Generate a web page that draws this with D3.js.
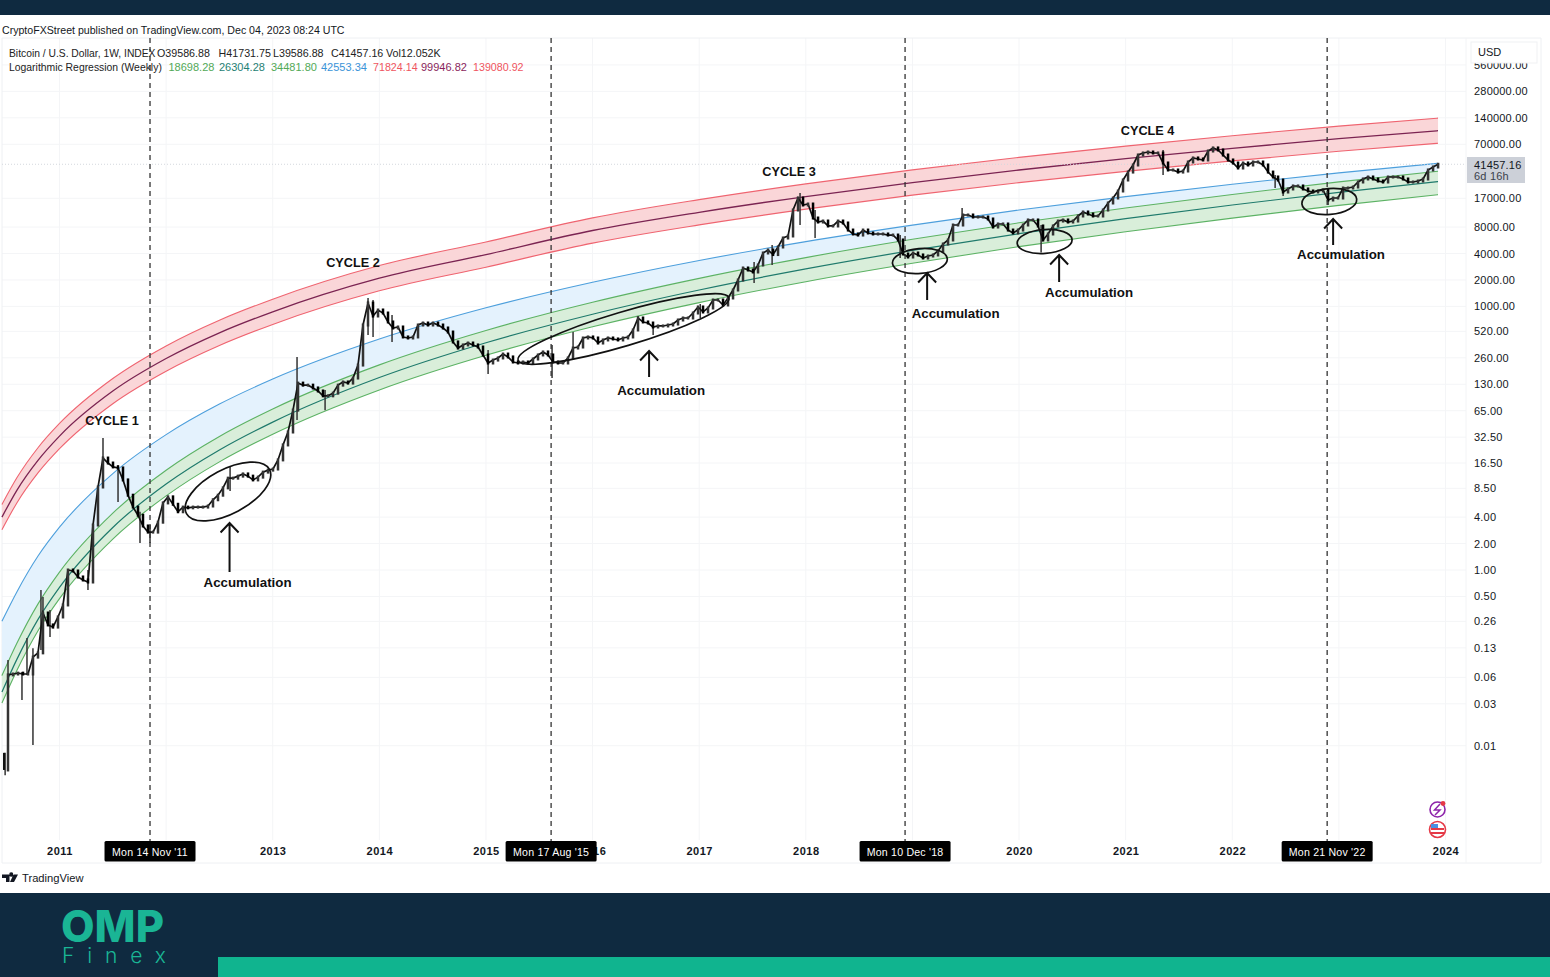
<!DOCTYPE html>
<html><head><meta charset="utf-8">
<script src="https://cdnjs.cloudflare.com/ajax/libs/d3/7.8.5/d3.min.js"></script>
<style>html,body{margin:0;padding:0;background:#fff}svg{display:block}</style>
</head><body><svg id="c" width="1550" height="977"></svg>
<script>
// ---------- data ----------
const yearTicks=[2011,2012,2013,2014,2015,2016,2017,2018,2019,2020,2021,2022,2023,2024];
const yearLabels=[2011,2013,2014,2015,2016,2017,2018,2020,2021,2022,2024];
const priceTicks=[0.01,0.03,0.06,0.13,0.26,0.5,1,2,4,8.5,16.5,32.5,65,130,260,520,1000,2000,4000,8000,17000,70000,140000,280000,560000];

// regression lines, sampled at these years
const curveYears=[2010.46,2010.6,2010.8,2011,2011.5,2012,2012.5,2013,2014,2015,2016,2017,2018,2019,2020,2021,2022,2023,2023.93];
const greenLow=[.0306,.072,.205,.473,2.25,6.97,17,35.1,112,278,586,1105,1911,3095,4795,7085,10110,14110,18698.28];
const tealMid=[.0408,.0961,.276,.635,3.05,9.5,23.2,48.2,155,386,815,1537,2672,4340,6720,9960,14260,19890,26304.28];
const greenHigh=[.0628,.1465,.414,.947,4.44,13.67,33.1,68,216,532,1114,2084,3593,5800,8940,13180,18780,26120,34481.8];
const blueLine=[.261,.563,1.45,3.07,12.5,34.7,77.3,149,425,964,1881,3330,5465,8420,12500,17780,24530,33060,42553.34];
const redLow=[2.87,5.8,12.8,24,78.1,183,359,624,1505,2795,5253,8465,12790,18470,25650,34460,45270,58210,71824.14];
const purpleMid=[4,8.07,17.8,33.4,108.7,255,500,868,2094,3890,7310,11780,17800,25700,35700,47950,63000,81000,99946.82];
const redHigh=[5.57,11.2,24.8,46.5,151,355,696,1208,2915,5415,10180,16400,24780,35770,49700,66750,87700,112750,139080.92];

// closing prices, read about every 17 days
const firstCandleYear=2010.47, candleStepYears=0.0469;
const closes2010=[.0053,.064,.0655,.067,.0655,.0655,.102,.114,.324,.237,.224,.292];
const closes2011=[.4,1,.974,.833,.77,.73,3.25,8.8,18.8,16.5,14.9,14.5,10.6,7.1,5.2,4.2,3.17,2.7,2.7,3.5,5.8];
const closes2012=[6.8,5.6,4.6,5.2,5.1,5.2,5.2,5.2,5.35,6.3,7.1,8.6,11.1,11.1,11.7,12.4,11.7,10.6,11.4,13,13.7];
const closes2013=[14.1,17.9,26.5,37.2,66,134,127,127,118,109,96,96,103,127,138,134,153,215,614,1092,778,910];
const closes2014=[841,665,568,583,449,437,449,614,647,614,647,614,568,511,394,336,364,383,364,345,280];
const closes2015=[227,245,259,287,266,233,227,233,227,252,280,303,280,233,227,227,259,336,345,437,449];
const closes2016=[437,383,415,437,426,415,437,449,539,738,665,647,583,599,599,614,630,700,738,738,841,985];
const closes2017=[864,959,1183,1183,1038,1247,1537,1998,2736,2596,2464,2959,4054,4384,3891,4744,6005,6330,12500,17130,14260];
const closes2018=[14630,10140,9130,9370,8230,8230,9370,8900,7400,6670,6490,7400,6850,6670,6670,6670,6490,6490,5700,3950,3650];
const closes2019=[4054,3850,3556,3746,3850,4270,5130,5700,8440,8440,10970,10970,10410,10410,10410,9880,8010,8670,8670,7400,6850,7400];
const closes2020=[8440,9630,9630,8230,5700,6670,8230,9370,9630,9130,9370,10690,11870,11260,10690,10690,12500,15030,17130,20580,27450];
const closes2021=[33800,40680,52860,55730,57170,55730,55730,42880,35680,35680,33800,34760,44000,48900,47600,46400,58700,63600,60300,52860,46400];
const closes2022=[42880,37600,42880,40680,44000,44000,40680,33800,29700,27450,20050,21700,23470,23470,21700,20580,20050,20580,21130,16250,17130];
const closes2023=[17130,22260,22260,22850,26050,28190,29700,28190,26740,26050,29700,29700,29700,28190,26050,26050,26740,28190,35680,38600,41457.16];

// the long wicks that stand out
const wickYears=[2010.49,2010.517,2010.648,2010.695,2010.751,2010.826,2010.845,2010.911,2011.267,2011.408,2011.549,2011.755,2011.849,2012.6,2013.228,2013.491,2013.894,2013.941,2014.119,2015.02,2015.62,2015.817,2016.427,2016.568,2017.01,2017.515,2017.684,2017.946,2018.087,2018.885,2019.466,2020.207,2021.351,2022.402,2022.477,2022.899];
const wickHighs=[.0083,.0947,.069,.168,.129,.592,.493,.351,1,31.8,15.7,4.6,3.25,14.9,266,112,1247,1183,798,319,364,511,778,665,1065,3200,5000,19520,12500,6490,13180,8440,60300,31300,24090,22260];
const wickLows=[.0046,.0102,.0331,.064,.0102,.123,.182,.173,.592,10.6,5.94,2.03,2.03,7.93,51,66,473,449,394,170,153,303,539,473,738,1847,2959,8440,6005,3556,9630,4100,31300,22260,18050,14260];

// annotations
const eventYears=[2011.849,2015.611,2018.931,2022.89];
const eventLabels=["Mon 14 Nov '11","Mon 17 Aug '15","Mon 10 Dec '18","Mon 21 Nov '22"];
const ringYears=[2012.58,2016.29,2019.07,2020.24,2022.91];
const ringPrices=[7.82,553,3286,5480,15630];
const ringRx=[47,110,27.5,27.5,27.5];
const ringRy=[22,17,12.5,12,13];
const ringTilt=[-28,-16.5,-5,-4,-5];
const arrowYears=[2012.595,2016.53,2019.138,2020.376,2022.946];
const arrowTips=[3.43,311,2400,3850,9880];
const arrowTails=[.949,157,1183,1896,5000];
const accYears=[2012.764,2016.643,2019.405,2020.657,2023.02];
const accPrices=[.73,109,841,1421,3850];
const cycleNames=["CYCLE 1","CYCLE 2","CYCLE 3","CYCLE 4"];
const cycleYears=[2011.492,2013.753,2017.843,2021.206];
const cyclePrices=[49.6,3119,33800,99100];
const lastPrice=41457.16;
const legendA=[["Bitcoin / U.S. Dollar, 1W, INDEX",9,10.3],["O39586.88",157,10.7],["H41731.75",218.6,10.7],["L39586.88",273,10.7],["C41457.16",331,10.7],["Vol12.052K",386,10.7]];
const legendB=[["Logarithmic Regression (Weekly)",9,10.4,"#222"],["18698.28",168.5,11,"#52a957"],["26304.28",219,11,"#1f7f74"],["34481.80",271,11,"#52a957"],["42553.34",321,11,"#3a93d8"],["71824.14",373,10.7,"#ef5560"],["99946.82",421,11,"#8a1f5c"],["139080.92",473,10.7,"#ef5560"]];

// ---------- scales ----------
const svg=d3.select("#c");
const FONT="'Liberation Sans',Arial,sans-serif";
const x=d3.scaleLinear().domain([2011,2024]).range([59.5,1445.5]);
const y=d3.scaleLog().domain([1,1024]).range([570,305.5]);
const closes=[].concat(closes2010,closes2011,closes2012,closes2013,closes2014,closes2015,closes2016,closes2017,closes2018,closes2019,closes2020,closes2021,closes2022,closes2023);
const candles=closes.map((c,i)=>({year:firstCandleYear+i*candleStepYears,close:c,open:i?closes[i-1]:c}));

svg.append("rect").attr("width",1550).attr("height",977).attr("fill","#fff");

// grid
const grid=svg.append("g").attr("stroke","#f4f5f7").attr("stroke-width",1);
grid.selectAll(".v").data(yearTicks).join("line").attr("x1",d=>x(d)).attr("x2",d=>x(d)).attr("y1",38).attr("y2",840);
grid.selectAll(".h").data(priceTicks).join("line").attr("x1",2).attr("x2",1466).attr("y1",d=>y(d)).attr("y2",d=>y(d));
const frame=svg.append("g").attr("stroke","#eef0f3").attr("fill","none");
frame.append("path").attr("d","M2,38V863H1541V38Z");
frame.append("line").attr("x1",1466).attr("x2",1466).attr("y1",38).attr("y2",863).attr("stroke","#f3f4f6");

// bands
const curve=d3.curveMonotoneX;
function band(hi,lo,fill){
  svg.append("path").datum(curveYears.map((t,i)=>({t,hi:hi[i],lo:lo[i]})))
    .attr("fill",fill)
    .attr("d",d3.area().x(d=>x(d.t)).y0(d=>y(d.lo)).y1(d=>y(d.hi)).curve(curve));
}
band(redHigh,redLow,"#fad6d8");
band(blueLine,greenHigh,"#e4f2fd");
band(greenHigh,greenLow,"#d9eeda");
function rline(vals,col,w){
  svg.append("path").datum(curveYears.map((t,i)=>({t,v:vals[i]})))
    .attr("fill","none").attr("stroke",col).attr("stroke-width",w)
    .attr("d",d3.line().x(d=>x(d.t)).y(d=>y(d.v)).curve(curve));
}
rline(greenLow,"#5cb264",1.1);rline(tealMid,"#1f7a6c",1.2);rline(greenHigh,"#5cb264",1.1);
rline(blueLine,"#4d9fdc",1.1);rline(redLow,"#ef6470",1.1);rline(redHigh,"#ef6470",1.1);rline(purpleMid,"#7b2452",1.3);

// last price line
svg.append("line").attr("x1",2).attr("x2",1466).attr("y1",y(lastPrice)).attr("y2",y(lastPrice)).attr("stroke","#d5d8de").attr("stroke-width",1).attr("stroke-dasharray","1 2");

// candles
const gc=svg.append("g");
gc.selectAll(".w").data(wickYears).join("line")
  .attr("x1",d=>x(d)).attr("x2",d=>x(d))
  .attr("y1",(d,i)=>y(wickHighs[i])).attr("y2",(d,i)=>y(wickLows[i]))
  .attr("stroke","#333").attr("stroke-width",1.5);
gc.append("path").datum(candles.slice(1)).attr("fill","none").attr("stroke","#111").attr("stroke-width",1.7)
  .attr("d",d3.line().x(d=>x(d.year)).y(d=>y(d.close)));
gc.selectAll(".b").data(candles.slice(1)).join("rect")
  .attr("x",d=>x(d.year)-1.25).attr("width",2.5)
  .attr("y",d=>Math.min(y(d.open),y(d.close))-1.5)
  .attr("height",d=>Math.abs(y(d.open)-y(d.close))+3)
  .attr("fill",d=>d.close>=d.open?"#333":"#000");
gc.append("rect").attr("x",x(firstCandleYear)).attr("width",2).attr("y",y(.0083)).attr("height",y(.0053)-y(.0083)).attr("fill","#111");

// crosshair drawings
svg.append("g").selectAll("line").data(eventYears).join("line")
  .attr("x1",d=>x(d)).attr("x2",d=>x(d)).attr("y1",38).attr("y2",841)
  .attr("stroke","#333").attr("stroke-width",1.3).attr("stroke-dasharray","5 4");

// axes
const xAxis=svg.append("g").attr("transform","translate(0,848)")
  .call(d3.axisBottom(x).tickValues(yearLabels).tickFormat(d3.format("d")).tickSize(0));
xAxis.select(".domain").remove();
xAxis.selectAll("text").attr("font-family",FONT).attr("font-size",11).attr("font-weight",600).attr("fill","#131722").attr("letter-spacing",.5).attr("dy",".66em").attr("y",0);
const yAxis=svg.append("g").attr("transform","translate(1474,0)")
  .call(d3.axisRight(y).tickValues(priceTicks).tickFormat(d3.format(".2f")).tickSize(0));
yAxis.select(".domain").remove();
yAxis.selectAll("text").attr("x",0).attr("font-family",FONT).attr("font-size",11).attr("fill","#131722").attr("letter-spacing",.2).attr("text-anchor","start");

// date boxes
const boxes=svg.append("g").selectAll("g").data(eventYears).join("g").attr("transform",d=>`translate(${x(d)},0)`);
boxes.append("rect").attr("x",-45.5).attr("y",841).attr("width",91).attr("height",20.5).attr("rx",1.5).attr("fill","#000");
boxes.append("text").text((d,i)=>eventLabels[i]).attr("y",856).attr("text-anchor","middle").attr("fill","#fff").attr("font-family",FONT).attr("font-size",10.6).attr("letter-spacing",.2);

// last price label + USD
svg.append("rect").attr("x",1467).attr("y",157).attr("width",58).attr("height",26).attr("fill","#ccd0d8");
svg.append("text").text(d3.format(".2f")(lastPrice)).attr("x",1474).attr("y",168.5).attr("font-family",FONT).attr("font-size",11).attr("letter-spacing",.2).attr("fill","#131722");
svg.append("text").text("6d 16h").attr("x",1474).attr("y",180).attr("font-family",FONT).attr("font-size",11).attr("letter-spacing",.2).attr("fill","#3a3f4b");
svg.append("rect").attr("x",1471).attr("y",42).attr("width",66).attr("height",21).attr("fill","#fff").attr("stroke","#f0f1f3");
svg.append("text").text("USD").attr("x",1478).attr("y",56).attr("font-family",FONT).attr("font-size",11).attr("fill","#131722");

// rings + arrows
svg.append("g").selectAll("ellipse").data(ringYears).join("ellipse")
  .attr("rx",(d,i)=>ringRx[i]).attr("ry",(d,i)=>ringRy[i])
  .attr("transform",(d,i)=>`translate(${x(d)},${y(ringPrices[i])}) rotate(${ringTilt[i]})`)
  .attr("fill","none").attr("stroke","#111").attr("stroke-width",1.7);
const arrows=svg.append("g").attr("stroke","#111").attr("stroke-width",2).attr("fill","none");
arrows.selectAll("path").data(arrowYears).join("path")
  .attr("d",(d,i)=>{const X=x(d),t=y(arrowTips[i]),b=y(arrowTails[i]);
    return `M${X},${b}V${t}M${X-9},${t+9.5}L${X},${t}L${X+9},${t+9.5}`;});

// labels
const ann=svg.append("g").attr("font-family",FONT).attr("font-weight",700).attr("fill","#111").attr("text-anchor","middle").attr("dominant-baseline","central");
ann.selectAll(".a").data(accYears).join("text").text("Accumulation").attr("font-size",13.3).attr("x",d=>x(d)).attr("y",(d,i)=>y(accPrices[i]));
ann.selectAll(".c").data(cycleNames).join("text").text(d=>d).attr("font-size",12.7).attr("x",(d,i)=>x(cycleYears[i])).attr("y",(d,i)=>y(cyclePrices[i]));

// legend
const leg=svg.append("g").attr("font-family",FONT);
leg.selectAll(".l1").data(legendA).join("text").text(d=>d[0]).attr("x",d=>d[1]).attr("font-size",d=>d[2]).attr("y",57).attr("fill","#222");
leg.selectAll(".l2").data(legendB).join("text").text(d=>d[0]).attr("x",d=>d[1]).attr("font-size",d=>d[2]).attr("y",71).attr("fill",d=>d[3]);
svg.append("text").text("CryptoFXStreet published on TradingView.com, Dec 04, 2023 08:24 UTC").attr("x",2).attr("y",34).attr("font-family",FONT).attr("font-size",10.6).attr("fill","#131722");

// corner icons
const ic=svg.append("g");
ic.append("circle").attr("cx",1437.5).attr("cy",809.5).attr("r",7.5).attr("fill","#fff").attr("stroke","#8e24aa").attr("stroke-width",1.6);
ic.append("path").attr("d","M1440,804L1434.5,810H1440L1435,815").attr("fill","none").attr("stroke","#8e24aa").attr("stroke-width",1.5);
ic.append("circle").attr("cx",1443).attr("cy",803.5).attr("r",2.4).attr("fill","#e53946");
ic.append("circle").attr("cx",1437.5).attr("cy",829.5).attr("r",8).attr("fill","#fff").attr("stroke","#e53946").attr("stroke-width",1.6);
ic.append("rect").attr("x",1431).attr("y",828).attr("width",13).attr("height",2).attr("fill","#e53946");
ic.append("rect").attr("x",1431).attr("y",832).attr("width",13).attr("height",2).attr("fill","#e53946");
ic.append("rect").attr("x",1431).attr("y",824).attr("width",7).attr("height",4).attr("fill","#4a90e2");

// TradingView mark
svg.append("path").attr("fill","#131722").attr("d","M2,874.5H9.5V882H6V878H2ZM9.5,874.5A1.8,1.8 0 1 1 13,874.5A1.8,1.8 0 1 1 9.5,874.5ZM13.5,874.5H18L14,882H10Z");
svg.append("text").text("TradingView").attr("x",22).attr("y",882).attr("font-family",FONT).attr("font-size",11.2).attr("fill","#131722");

// page furniture
svg.append("rect").attr("width",1550).attr("height",15).attr("fill","#0f2a40");
svg.append("rect").attr("y",893).attr("width",1550).attr("height",84).attr("fill","#0f2a40");
svg.append("rect").attr("x",218).attr("y",957).attr("width",1332).attr("height",20).attr("fill","#10b48f");
svg.append("text").text("OMP").attr("x",61).attr("y",942).attr("font-family","Inter,sans-serif").attr("font-weight",800).attr("font-size",44).attr("fill","#1ab595").attr("textLength",103).attr("lengthAdjust","spacingAndGlyphs");
svg.append("text").text("Finex").attr("x",62).attr("y",963).attr("font-family","Inter,sans-serif").attr("font-weight",300).attr("font-size",21).attr("fill","#1ab595").attr("textLength",104).attr("lengthAdjust","spacing");
</script></body></html>
